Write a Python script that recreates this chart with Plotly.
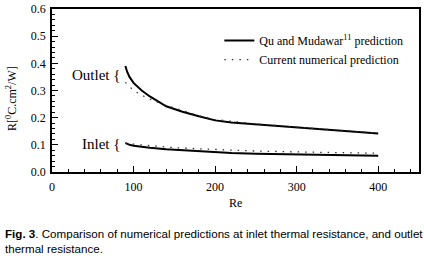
import plotly.graph_objects as go

re_qu = [90, 92, 95, 100, 110, 120, 140, 160, 180, 200, 220, 250, 300, 350, 400]
outlet_qu = [0.39, 0.37, 0.35, 0.328, 0.300, 0.278, 0.242, 0.222, 0.205, 0.190, 0.182, 0.175, 0.163, 0.152, 0.142]
inlet_qu = [0.107, 0.103, 0.100, 0.097, 0.092, 0.089, 0.084, 0.080, 0.076, 0.073, 0.070, 0.067, 0.064, 0.062, 0.060]

re_num = [90, 100, 110, 120, 140, 160, 180, 200, 250, 300, 350, 400]
outlet_num = [0.330, 0.300, 0.283, 0.268, 0.245, 0.225, 0.207, 0.193, 0.177, 0.165, 0.153, 0.143]
inlet_num = [0.105, 0.102, 0.099, 0.096, 0.092, 0.088, 0.085, 0.082, 0.077, 0.074, 0.071, 0.069]

x_ticks = [0, 100, 200, 300, 400]
y_ticks = [0.0, 0.1, 0.2, 0.3, 0.4, 0.5, 0.6]

serif = "Liberation Serif, Times New Roman, serif"
dotdash = "1.5px,6px"
fig = go.Figure()
fig.add_trace(go.Scatter(x=re_qu, y=outlet_qu, mode="lines", line=dict(color="black", width=2),
                         name="Qu and Mudawar<sup>11</sup> prediction"))
fig.add_trace(go.Scatter(x=re_qu, y=inlet_qu, mode="lines", line=dict(color="black", width=2),
                         showlegend=False))
fig.add_trace(go.Scatter(x=re_num, y=outlet_num, mode="lines", line=dict(color="#333", width=1.3, dash=dotdash),
                         name="Current numerical prediction"))
fig.add_trace(go.Scatter(x=re_num, y=inlet_num, mode="lines", line=dict(color="#333", width=1.3, dash=dotdash),
                         showlegend=False))

fig.update_layout(
    width=424, height=256,
    margin=dict(l=52, r=5, t=9, b=84, autoexpand=False),
    paper_bgcolor="white", plot_bgcolor="white",
    font=dict(family=serif, size=12, color="black"),
    showlegend=True,
    legend=dict(x=0.456, y=0.895, xanchor="left", yanchor="top", bgcolor="rgba(0,0,0,0)",
                font=dict(family=serif, size=12), itemwidth=30, tracegroupgap=0),
)
fig.update_xaxes(range=[0, 450], tickvals=x_ticks, ticks="inside", ticklen=6, tickcolor="black",
                 showline=True, linecolor="black", linewidth=1.5, mirror=True, showgrid=False, zeroline=False,
                 tickfont=dict(family=serif, size=12), automargin=False, ticklabelstandoff=3,
                 ticklabeloverflow="allow",
                 minor=dict(dtick=20, ticks="inside", ticklen=3, tickcolor="black"))
fig.update_yaxes(range=[0, 0.6], tickvals=y_ticks, tickformat=".1f", ticks="inside", ticklen=6, tickcolor="black",
                 showline=True, linecolor="black", linewidth=1.5, mirror=True, showgrid=False, zeroline=False,
                 tickfont=dict(family=serif, size=12), automargin=False, ticklabelstandoff=2,
                 ticklabeloverflow="allow",
                 minor=dict(dtick=0.02, ticks="inside", ticklen=3, tickcolor="black"))

fig.add_annotation(x=0.5, y=-0.19, xref="paper", yref="paper", yanchor="middle", text="Re", showarrow=False,
                   font=dict(family=serif, size=12))
fig.add_annotation(x=-0.109, y=0.454, xref="paper", yref="paper", xanchor="center", yanchor="middle",
                   textangle=-90, text="R[<sup>0</sup>C.cm<sup>2</sup>/W]", showarrow=False,
                   font=dict(family=serif, size=12))

fig.add_annotation(x=86, y=0.357, xref="x", yref="y", xanchor="right", text="Outlet {", showarrow=False,
                   font=dict(family=serif, size=15))
fig.add_annotation(x=86, y=0.103, xref="x", yref="y", xanchor="right", text="Inlet {", showarrow=False,
                   font=dict(family=serif, size=15))

fig.add_annotation(x=-49/367, y=-0.325, xref="paper", yref="paper", xanchor="left", yanchor="top", align="left",
                   text="<b>Fig. 3</b>. Comparison of numerical predictions at inlet thermal resistance, and outlet<br>thermal resistance.",
                   showarrow=False, font=dict(family="Liberation Sans, Arial, sans-serif", size=11.6))

fig.write_html("out.html", config={"displayModeBar": False},
               post_script="document.body.style.margin='0';")
